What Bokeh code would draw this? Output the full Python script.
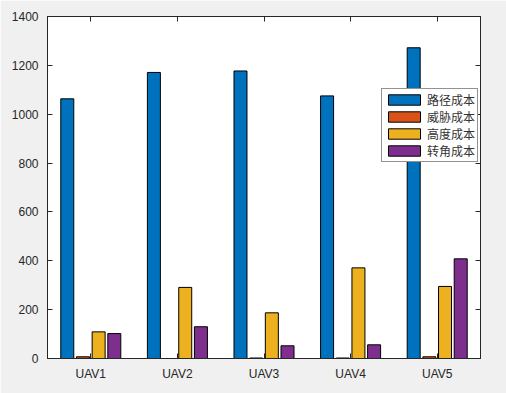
from bokeh.plotting import figure
from bokeh.models import ColumnDataSource, LinearAxis, CategoricalAxis, Range1d, FixedTicker, Legend, LegendItem
from bokeh.transform import dodge
from bokeh.embed import file_html
from bokeh.resources import INLINE

categories = ["UAV1", "UAV2", "UAV3", "UAV4", "UAV5"]
series_names = ["路径成本", "威胁成本", "高度成本", "转角成本"]
path_cost = [1063, 1171, 1177, 1075, 1272]
threat_cost = [7, 0, 2, 2, 7]
height_cost = [109, 291, 187, 371, 295]
turn_cost = [102, 130, 52, 56, 408]
colors = ["#0072BD", "#D95319", "#EDB120", "#7E2F8E"]
y_ticks = [0, 200, 400, 600, 800, 1000, 1200, 1400]

source = ColumnDataSource(dict(x=categories, s0=path_cost, s1=threat_cost,
                               s2=height_cost, s3=turn_cost))

p = figure(width=506, height=393, x_range=categories, y_range=Range1d(0, 1400),
           output_backend="svg", toolbar_location=None,
           min_border_left=47, min_border_right=26, min_border_top=16, min_border_bottom=35)
p.x_range.range_padding = 0
p.border_fill_color = "#F0F0F0"
p.background_fill_color = "white"
p.outline_line_color = "#262626"
p.outline_line_width = 1
p.grid.visible = False

step = 0.181
width = 0.15
renderers = []
for i, col in enumerate(["s0", "s1", "s2", "s3"]):
    off = (i - 1.5) * step
    r = p.vbar(x=dodge("x", off, range=p.x_range), top=col, width=width, source=source,
               fill_color=colors[i], line_color="black", line_width=1)
    renderers.append(r)

axis_color = "#262626"
for ax in [p.xaxis[0], p.yaxis[0]]:
    ax.axis_line_color = axis_color
    ax.major_tick_line_color = axis_color
    ax.major_tick_in = 5
    ax.major_tick_out = 0
    ax.minor_tick_line_color = None
    ax.major_label_text_font = "Liberation Sans"
    ax.major_label_text_font_size = "12px"
    ax.major_label_text_color = axis_color
p.yaxis[0].ticker = FixedTicker(ticks=y_ticks)
p.yaxis[0].major_label_standoff = 9
p.xaxis[0].major_label_standoff = 8

ra = LinearAxis(ticker=FixedTicker(ticks=y_ticks))
ra.major_label_overrides = {t: "" for t in y_ticks}
ra.major_tick_in = 5
ra.major_tick_out = 0
ra.minor_tick_line_color = None
ra.axis_line_color = axis_color
ra.major_tick_line_color = axis_color
p.add_layout(ra, "right")

ta = CategoricalAxis()
ta.major_label_text_color = None
ta.major_label_standoff = 0
ta.major_tick_in = 5
ta.major_tick_out = 0
ta.axis_line_color = axis_color
ta.major_tick_line_color = axis_color
p.add_layout(ta, "above")

legend = Legend(items=[LegendItem(label=series_names[i], renderers=[renderers[i]]) for i in range(4)],
                location=(334, 196))
legend.label_text_font = "Noto Sans CJK SC"
legend.label_text_font_size = "12px"
legend.label_text_color = "#333333"
legend.glyph_width = 40
legend.glyph_height = 13
legend.spacing = 0
legend.padding = 2
legend.margin = 0
legend.label_standoff = 3
legend.label_height = 13
legend.border_line_color = "#262626"
legend.background_fill_alpha = 1
p.add_layout(legend, "center")

html = file_html(p, INLINE)
open("out.html", "w").write(html)
